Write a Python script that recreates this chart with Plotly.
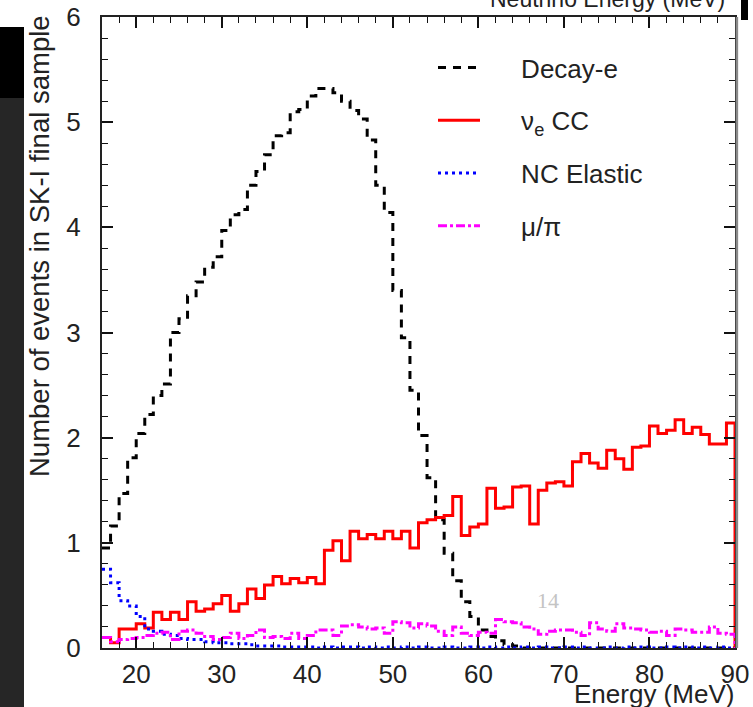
import plotly.graph_objects as go

# ---------------- data ----------------
energy_edges = list(range(16, 91))  # 1 MeV bins from 16 to 90 MeV

decay_e = [0.95, 1.16, 1.47, 1.81, 2.04, 2.22, 2.40, 2.51, 3.00, 3.13,
           3.35, 3.48, 3.62, 3.72, 3.97, 4.12, 4.17, 4.40, 4.53, 4.69,
           4.87, 4.90, 5.10, 5.12, 5.25, 5.32, 5.32, 5.28, 5.20, 5.11,
           5.03, 4.83, 4.40, 4.14, 3.40, 2.95, 2.45, 2.02, 1.62, 1.22,
           0.90, 0.64, 0.44, 0.30, 0.17, 0.11, 0.07, 0.03, 0.02, 0.0,
           0.0, 0.0, 0.0, 0.0, 0.0, 0.0, 0.0, 0.0, 0.0, 0.0,
           0.0, 0.0, 0.0, 0.0, 0.0, 0.0, 0.0, 0.0, 0.0, 0.0,
           0.0, 0.0, 0.0, 0.0]

nue_cc = [0.10, 0.05, 0.18, 0.18, 0.23, 0.19, 0.34, 0.27, 0.34, 0.27,
          0.44, 0.35, 0.37, 0.42, 0.50, 0.35, 0.42, 0.56, 0.47, 0.60,
          0.68, 0.61, 0.66, 0.62, 0.67, 0.61, 0.93, 1.02, 0.83, 1.11,
          1.04, 1.08, 1.04, 1.11, 1.04, 1.11, 0.95, 1.19, 1.22, 1.24,
          1.26, 1.44, 1.07, 1.15, 1.18, 1.52, 1.33, 1.34, 1.53, 1.54,
          1.18, 1.50, 1.57, 1.58, 1.54, 1.77, 1.85, 1.76, 1.71, 1.88,
          1.80, 1.70, 1.91, 1.92, 2.11, 2.04, 2.07, 2.17, 2.04, 2.10,
          2.03, 1.94, 1.94, 2.14]

nc_elastic = [0.75, 0.62, 0.45, 0.40, 0.30, 0.18, 0.16, 0.13, 0.12, 0.09,
              0.08, 0.08, 0.06, 0.05, 0.05, 0.04, 0.04, 0.03, 0.02, 0.02,
              0.02, 0.01, 0.01, 0.01, 0.01, 0.0, 0.01, 0.0, 0.01, 0.01,
              0.0, 0.01, 0.0, 0.01, 0.0, 0.01, 0.0, 0.01, 0.0, 0.0,
              0.01, 0.0, 0.0, 0.01, 0.0, 0.01, 0.0, 0.01, 0.0, 0.01,
              0.0, 0.01, 0.0, 0.0, 0.01, 0.0, 0.01, 0.0, 0.0, 0.01,
              0.0, 0.01, 0.0, 0.01, 0.0, 0.0, 0.01, 0.0, 0.01, 0.0,
              0.01, 0.0, 0.01, 0.0]

mu_pi = [0.10, 0.06, 0.08, 0.09, 0.10, 0.12, 0.14, 0.15, 0.08, 0.16,
         0.17, 0.14, 0.11, 0.08, 0.10, 0.14, 0.09, 0.12, 0.17, 0.10,
         0.11, 0.09, 0.14, 0.09, 0.12, 0.17, 0.17, 0.12, 0.21, 0.22,
         0.20, 0.18, 0.19, 0.14, 0.25, 0.24, 0.19, 0.23, 0.21, 0.16,
         0.12, 0.20, 0.14, 0.12, 0.15, 0.14, 0.27, 0.25, 0.24, 0.20,
         0.18, 0.13, 0.16, 0.17, 0.17, 0.15, 0.12, 0.24, 0.18, 0.16,
         0.23, 0.19, 0.18, 0.17, 0.15, 0.16, 0.12, 0.18, 0.17, 0.15,
         0.15, 0.20, 0.14, 0.13]

x_ticks = [20, 30, 40, 50, 60, 70, 80, 90]
y_ticks = [0, 1, 2, 3, 4, 5, 6]

series_names = ["Decay-e", "ν<sub>e</sub> CC", "NC Elastic", "μ/π"]

# ---------------- layout geometry (pixels) ----------------
W, H = 753, 707
PL, PR, PT, PB = 102, 735, 17, 648


def px(xp):
    return (xp - PL) / (PR - PL)


def py(yp):
    return (PB - yp) / (PB - PT)


FONT = "Liberation Sans, Arial, Helvetica, sans-serif"
PAD = "\u00a0" * 5  # gap between legend line sample and its label


def step_xy(values):
    # outline of a histogram: closes to zero at the last edge
    xs = list(energy_edges) + [energy_edges[-1]]
    ys = list(values) + [values[-1], 0.0]
    return xs, ys


styles = [
    dict(color="#000000", width=3, dash="8px,7px"),
    dict(color="#ff0000", width=3, dash="solid"),
    dict(color="#0000ff", width=3, dash="3px,4px"),
    dict(color="#ff00ff", width=3, dash="9px,3px,3px,3px"),
]

fig = go.Figure()
for name, vals, st, grp in zip(series_names, [decay_e, nue_cc, nc_elastic, mu_pi], styles, "abcd"):
    xs, ys = step_xy(vals)
    fig.add_trace(go.Scatter(
        x=xs, y=ys, mode="lines", name=PAD + name, legendgroup=grp,
        line=dict(shape="hv", **st),
        hoverinfo="skip",
    ))

fig.update_layout(
    width=W, height=H,
    margin=dict(l=PL, r=W - PR, t=PT, b=H - PB, pad=0, autoexpand=False),
    paper_bgcolor="#ffffff",
    plot_bgcolor="#ffffff",
    font=dict(family=FONT, size=26, color="#222222"),
    showlegend=True,
    legend=dict(
        x=px(433), y=py(44), xanchor="left", yanchor="top",
        bgcolor="rgba(0,0,0,0)", borderwidth=0,
        font=dict(family=FONT, size=26, color="#222222"),
        traceorder="grouped", tracegroupgap=16, itemwidth=42,
    ),
)

fig.update_xaxes(
    range=[16, 90], tickvals=x_ticks, ticktext=[str(v) for v in x_ticks],
    ticks="inside", ticklen=11, tickwidth=1.5, tickcolor="#111111",
    minor=dict(dtick=2, tick0=0, ticks="inside", ticklen=6, tickwidth=1.2, tickcolor="#111111"),
    showline=True, linecolor="#222222", linewidth=2, mirror="allticks",
    showgrid=False, zeroline=False, automargin=False,
    tickfont=dict(family=FONT, size=26, color="#222222"),
    ticklabelstandoff=2,
)
fig.update_yaxes(
    range=[0, 6], tickvals=y_ticks, ticktext=[str(v) for v in y_ticks],
    ticks="inside", ticklen=11, tickwidth=1.5, tickcolor="#111111",
    minor=dict(dtick=0.2, tick0=0, ticks="inside", ticklen=6, tickwidth=1.2, tickcolor="#111111"),
    showline=True, linecolor="#222222", linewidth=2, mirror="allticks",
    showgrid=False, zeroline=False, automargin=False,
    tickfont=dict(family=FONT, size=26, color="#222222"),
    ticklabelstandoff=14,
)

annotations = [
    dict(text="Number of events in SK-I final sample", textangle=-90,
         xref="paper", yref="paper", x=px(40), y=py(13),
         xanchor="center", yanchor="top", showarrow=False,
         font=dict(family=FONT, size=27.5, color="#222222")),
    dict(text="Energy (MeV)", xref="paper", yref="paper", x=px(736), y=py(694),
         xanchor="right", yanchor="middle", showarrow=False,
         font=dict(family=FONT, size=26, color="#222222")),
    dict(text="Neutrino Energy (MeV)", xref="paper", yref="paper", x=px(607), y=py(-1),
         xanchor="center", yanchor="middle", showarrow=False,
         font=dict(family=FONT, size=23, color="#222222")),
    dict(text="14", xref="paper", yref="paper", x=px(548), y=py(600),
         xanchor="center", yanchor="middle", showarrow=False,
         font=dict(family="Liberation Serif, DejaVu Serif, serif", size=22, color="#c4c4c4")),
]
fig.update_layout(annotations=annotations)

shapes = [
    # slide background strips around the pasted figure
    dict(type="rect", xref="paper", yref="paper", x0=px(0), x1=px(24), y0=py(707), y1=py(98),
         fillcolor="#262626", line=dict(width=0), layer="above"),
    dict(type="rect", xref="paper", yref="paper", x0=px(0), x1=px(24), y0=py(98), y1=py(27),
         fillcolor="#000000", line=dict(width=0), layer="above"),
    dict(type="rect", xref="paper", yref="paper", x0=px(741), x1=px(748), y0=py(20), y1=py(0),
         fillcolor="#000000", line=dict(width=0), layer="above"),
    # greyish right edge of the frame
    dict(type="line", xref="paper", yref="paper", x0=1.003, x1=1.003, y0=0, y1=1,
         line=dict(color="#8a8a8a", width=2.5), layer="above"),
]
fig.update_layout(shapes=shapes)

# remove the default page margin so the figure sits at the window's top-left corner
fig.write_html("out.html", config={"displayModeBar": False},
               post_script="document.body.style.margin='0';document.body.style.padding='0';")
